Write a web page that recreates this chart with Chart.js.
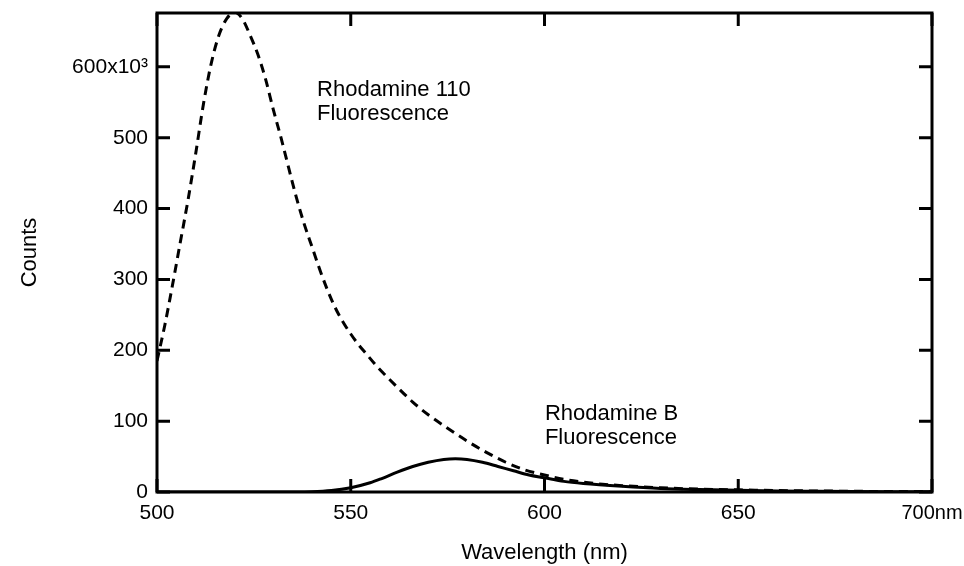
<!DOCTYPE html>
<html>
<head>
<meta charset="utf-8">
<script src="https://cdn.jsdelivr.net/npm/chart.js@4.4.1/dist/chart.umd.min.js"></script>
<style>
  html, body { margin: 0; padding: 0; background: #fff; }
  #wrap { width: 964px; height: 566px; }
</style>
</head>
<body>
<div id="wrap"><canvas id="c" width="964" height="566"></canvas></div>
<script>
// Wavelength (nm) and counts (x10^3)
const r110Wavelength = [500,502,504,506,508,510,512,514,516,518,520,522,524,526,528,530,532,534,536,538,540,542,544,546,548,550,552,554,556,558,562,566,570,575,580,585,590,595,600,605,610,615,620,630,640,650,660,670,680,690,700];
const r110Counts     = [185,235,292,352,412,478,548,605,645,668,677,668,645,618,583,540,500,457,415,378,346,314,285,260,240,223,208,195,182,170,148,127,109,90,72,56,42,31,24,18,14,11,9,6,4,3,2,1.5,1,0.7,0.5];

const rbWavelength = [500,520,530,540,545,550,555,558,562,566,570,574,577,580,584,588,592,596,600,605,610,620,630,640,650,660,670,680,690,700];
const rbCounts     = [0,0,0,0.5,2,6,13,19,28,36,42,46,47,46,42,36,30,24,20,15,12,8,5,3.5,2.5,1.5,1,0.6,0.3,0.2];

const xTicks = [500,550,600,650,700];
const yTicks = [0,100,200,300,400,500,600];

const annotations = [
  { lines: ['Rhodamine 110', 'Fluorescence'], x: 541.3, y: 568 },
  { lines: ['Rhodamine B', 'Fluorescence'], x: 600.1, y: 110 }
];

const FONT = '"Liberation Sans", Arial, Helvetica, sans-serif';
const FS = 22;

const framePlugin = {
  id: 'frame',
  afterDatasetsDraw(chart) {
    const { ctx, chartArea: a, scales } = chart;
    ctx.save();
    ctx.strokeStyle = '#000';
    ctx.lineWidth = 3;
    ctx.strokeRect(a.left, a.top, a.right - a.left, a.bottom - a.top);
    const L = 13;
    ctx.beginPath();
    xTicks.forEach(v => {
      const px = scales.x.getPixelForValue(v);
      ctx.moveTo(px, a.bottom); ctx.lineTo(px, a.bottom - L);
      ctx.moveTo(px, a.top); ctx.lineTo(px, a.top + L);
    });
    yTicks.forEach(v => {
      const py = scales.y.getPixelForValue(v);
      ctx.moveTo(a.left, py); ctx.lineTo(a.left + L, py);
      ctx.moveTo(a.right, py); ctx.lineTo(a.right - L, py);
    });
    ctx.stroke();
    ctx.fillStyle = '#000';
    ctx.font = FS + 'px ' + FONT;
    ctx.textAlign = 'left';
    ctx.textBaseline = 'middle';
    annotations.forEach(an => {
      const px = scales.x.getPixelForValue(an.x);
      const py = scales.y.getPixelForValue(an.y);
      an.lines.forEach((t, i) => ctx.fillText(t, px, py + i * 24));
    });
    ctx.restore();
  }
};

new Chart(document.getElementById('c'), {
  type: 'line',
  data: {
    datasets: [
      {
        label: 'Rhodamine 110 Fluorescence',
        data: r110Wavelength.map((w, i) => ({ x: w, y: r110Counts[i] })),
        borderColor: '#000',
        borderWidth: 3,
        borderDash: [9, 6],
        pointRadius: 0,
        cubicInterpolationMode: 'monotone',
        fill: false
      },
      {
        label: 'Rhodamine B Fluorescence',
        data: rbWavelength.map((w, i) => ({ x: w, y: rbCounts[i] })),
        borderColor: '#000',
        borderWidth: 3,
        pointRadius: 0,
        cubicInterpolationMode: 'monotone',
        fill: false
      }
    ]
  },
  options: {
    responsive: false,
    animation: false,
    devicePixelRatio: 1,
    layout: { padding: { left: 0, right: 32, top: 13, bottom: 0 } },
    plugins: { legend: { display: false }, tooltip: { enabled: false } },
    scales: {
      x: {
        type: 'linear',
        min: 500, max: 700,
        afterFit(s) { s.height = 74; s.paddingLeft = 0; s.paddingRight = 0; },
        afterBuildTicks(s) { s.ticks = xTicks.map(v => ({ value: v })); },
        grid: { display: false, drawTicks: false },
        border: { display: false },
        ticks: {
          color: '#000',
          font: c => ({ family: FONT, size: (c.tick && c.tick.value === 700) ? 20 : 21 }),
          padding: 9,
          maxRotation: 0,
          callback: v => (v === 700 ? '700nm' : String(v))
        },
        title: {
          display: true,
          text: 'Wavelength (nm)',
          color: '#000',
          font: { family: FONT, size: FS },
          padding: { top: 3, bottom: 0 }
        }
      },
      y: {
        type: 'linear',
        min: 0, max: 676,
        afterFit(s) { s.width = 157; s.paddingTop = 0; s.paddingBottom = 0; },
        afterBuildTicks(s) { s.ticks = yTicks.map(v => ({ value: v })); },
        grid: { display: false, drawTicks: false },
        border: { display: false },
        ticks: {
          color: '#000',
          font: { family: FONT, size: 21 },
          padding: 9,
          callback: v => (v === 600 ? '600x10³' : String(v))
        },
        title: {
          display: true,
          text: 'Counts',
          color: '#000',
          font: { family: FONT, size: FS },
          padding: { top: 17, bottom: 0 }
        }
      }
    }
  },
  plugins: [framePlugin]
});
</script>
</body>
</html>
